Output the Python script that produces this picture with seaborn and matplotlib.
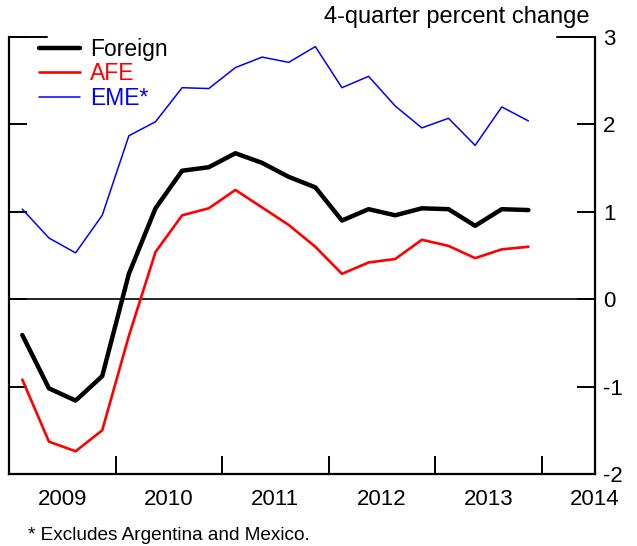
import matplotlib
matplotlib.use("Agg")
import matplotlib.pyplot as plt
import matplotlib.transforms as mtransforms
import numpy as np
import pandas as pd
import seaborn as sns

# Quarterly observations, 2009Q1 - 2013Q4 (4-quarter percent change)
years = [2009, 2010, 2011, 2012, 2013]
quarters = [1, 2, 3, 4]
foreign = [-0.41, -1.02, -1.16, -0.88, 0.29, 1.04, 1.47, 1.51, 1.67, 1.56,
           1.40, 1.28, 0.90, 1.03, 0.96, 1.04, 1.03, 0.84, 1.03, 1.02]
afe = [-0.92, -1.63, -1.74, -1.50, -0.42, 0.54, 0.96, 1.04, 1.25, 1.05,
       0.85, 0.60, 0.29, 0.42, 0.46, 0.68, 0.61, 0.47, 0.57, 0.60]
eme = [1.03, 0.70, 0.53, 0.96, 1.87, 2.03, 2.42, 2.41, 2.65, 2.77,
       2.71, 2.89, 2.42, 2.55, 2.21, 1.96, 2.07, 1.76, 2.20, 2.04]

series_names = ["Foreign", "AFE", "EME*"]
series_colors = ["black", "red", "blue"]
series_widths = [3.2, 1.9, 1.1]

year_ticks = [2010, 2011, 2012, 2013, 2014]
year_labels = ["2009", "2010", "2011", "2012", "2013", "2014"]
y_ticks = [-2, -1, 0, 1, 2, 3]

t = [y + (q - 0.5) / 4 for y in years for q in quarters]
df = pd.DataFrame({"t": t, "Foreign": foreign, "AFE": afe, "EME*": eme})
long = df.melt(id_vars="t", var_name="series", value_name="value")

sns.set_theme(style="white")
plt.rcParams["font.family"] = ["Liberation Sans", "DejaVu Sans"]
plt.rcParams["text.color"] = "black"
plt.rcParams["xtick.color"] = "black"
plt.rcParams["ytick.color"] = "black"
plt.rcParams["xtick.labelcolor"] = "black"
plt.rcParams["ytick.labelcolor"] = "black"

W, H = 637, 546
fig = plt.figure(figsize=(W / 100, H / 100), dpi=100)
left, right, top, bottom = 9, 595, 37, 474
ax = fig.add_axes([left / W, 1 - bottom / H, (right - left) / W, (bottom - top) / H])

for name, col, lw in zip(series_names, series_colors, series_widths):
    sns.lineplot(data=long[long["series"] == name], x="t", y="value",
                 color=col, linewidth=lw, label=name, ax=ax)

ax.axhline(0, color="black", linewidth=1.2, zorder=1)

ax.set_xlim(2009, 2014.5)
ax.set_ylim(-2, 3)
ax.set_xlabel("")
ax.set_ylabel("")

# spines
for s in ["left", "right", "bottom"]:
    ax.spines[s].set_visible(True)
    ax.spines[s].set_color("black")
    ax.spines[s].set_linewidth(1.6)
ax.spines["top"].set_visible(False)

# y axis: ticks inward on both sides, labels on the right
ax.set_yticks(y_ticks)
ax.set_yticklabels([str(v) for v in y_ticks])
ax.tick_params(axis="y", which="major", left=True, right=True, direction="in",
               length=13, width=1.4, color="black", labelcolor="black",
               labelleft=False, labelright=True, labelsize=16, pad=6)

# x axis: year boundaries as ticks, year labels centred in each year
ax.set_xticks(year_ticks)
ax.set_xticklabels([""] * len(year_ticks))
ax.set_xticks([y + 0.5 for y in range(2009, 2015)], minor=True)
ax.set_xticklabels(year_labels, minor=True)
ax.tick_params(axis="x", which="major", bottom=True, direction="in",
               length=13, width=1.4, color="black")
ax.tick_params(axis="x", which="minor", bottom=False, length=0,
               labelsize=16, pad=11, labelcolor="black")

# longer ticks marking the top of the scale
tr = mtransforms.blended_transform_factory(ax.transAxes, ax.transData)
ax.plot([0, 0.065], [3, 3], color="black", lw=1.4, transform=tr, clip_on=False)
ax.plot([0.935, 1], [3, 3], color="black", lw=1.4, transform=tr, clip_on=False)

leg = ax.legend(loc="upper left", bbox_to_anchor=(0.035, 1.018), frameon=False,
                fontsize=16.5, handlelength=1.8, handletextpad=0.45,
                labelspacing=0.05, borderaxespad=0)
for text, col in zip(leg.get_texts(), series_colors):
    text.set_color(col)

fig.text(590 / W, 1 - 17 / H, "4-quarter percent change", ha="right",
         va="center", fontsize=17, color="black")
fig.text(28 / W, 1 - 535 / H, "* Excludes Argentina and Mexico.", ha="left",
         va="center", fontsize=13.7, color="black")

fig.savefig("out.png", dpi=100)
